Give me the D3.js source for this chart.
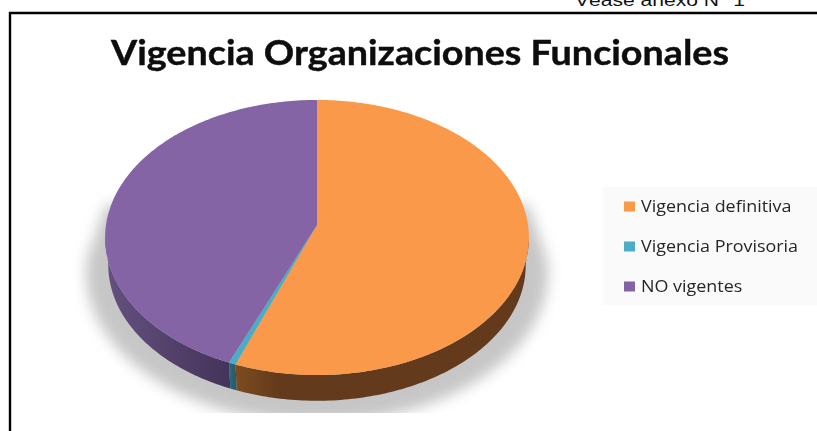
<!DOCTYPE html>
<html>
<head>
<meta charset="utf-8">
<script src="https://cdn.jsdelivr.net/npm/d3@7"></script>
<style>
    html, body { margin: 0; padding: 0; background: #fff; overflow: hidden; }
    svg { display: block; }
</style>
</head>
<body>
<div id="chart"></div>
<script>
const categories = ["Vigencia definitiva", "Vigencia Provisoria", "NO vigentes"];
const values = [55.75, 0.49, 43.76];
const topColors = ["#fa994a", "#4bacc6", "#8464a4"];
const sideLight = ["#7c4c20", "#2f6a7c", "#65517f"];
const sideDark = ["#633a1b", "#28586a", "#44335a"];
const title = "Vigencia Organizaciones Funcionales";
const note = "Véase anexo N° 1";

const width = 817, height = 431;
const cx = 317, cy = 225;      // where the slices meet
const rx = 211, ry = 136.4;
const tilt = 0.0909;           // perspective of the pie top
const depth = 27;

const svg = d3.select("#chart").append("svg")
    .attr("width", width)
    .attr("height", height);

const defs = svg.append("defs");
defs.append("filter").attr("id", "soft")
    .attr("x", "-20%").attr("y", "-20%").attr("width", "140%").attr("height", "140%")
    .append("feGaussianBlur").attr("stdDeviation", 7);
defs.append("filter").attr("id", "fuzz")
    .append("feGaussianBlur").attr("stdDeviation", 0.35);
defs.append("clipPath").attr("id", "shadowClip")
    .append("rect").attr("x", 0).attr("y", 0).attr("width", width).attr("height", 413);

// maps an angle (clockwise from the top) and a radius to the tilted pie plane
function project (angle, r = 1, scale = 1, dy = 0) {
    const u = Math.sin(angle) * r;
    const v = -Math.cos(angle) * r;
    const w = 1 - tilt * v;
    return [cx + rx * scale * u / w, cy + ry * scale * v / w + dy];
}

function rim (a0, a1, scale = 1, dy = 0) {
    const n = Math.max(2, Math.ceil((a1 - a0) * 60));
    return d3.range(n + 1).map((i) => project(a0 + (a1 - a0) * i / n, 1, scale, dy));
}

const arcs = d3.pie().sort(null)(values);
const line = d3.line();

// note and frame
svg.append("text")
    .attr("x", 575).attr("y", 6)
    .attr("font-family", "Liberation Sans")
    .attr("font-size", 16)
    .attr("textLength", 170)
    .attr("lengthAdjust", "spacingAndGlyphs")
    .attr("fill", "#111")
    .text(note);

svg.append("path")
    .attr("d", `M10 ${height}V13H${width}`)
    .attr("fill", "none")
    .attr("stroke", "#000")
    .attr("stroke-width", 2.4);

const chart = svg.append("g").attr("filter", "url(#fuzz)");

chart.append("text")
    .attr("x", 111).attr("y", 65)
    .attr("font-family", "Lato")
    .attr("font-weight", 700)
    .attr("font-size", 35)
    .attr("textLength", 618)
    .attr("lengthAdjust", "spacingAndGlyphs")
    .attr("fill", "#0a0a0a")
    .attr("stroke", "#0a0a0a")
    .attr("stroke-width", 0.4)
    .text(title);

// shadow on the floor
const shadowPts = [[cx - rx, 205], [cx + rx, 205]]
    .concat(rim(Math.PI / 2, Math.PI * 1.5, 1.09, 34));
svg.append("g").attr("clip-path", "url(#shadowClip)")
    .append("path")
    .attr("d", line(shadowPts) + "Z")
    .attr("fill", "#c6c6c6")
    .attr("filter", "url(#soft)");

// side wall, only the front part shows
const sideFrom = Math.PI * 95 / 180, sideTo = Math.PI * 265 / 180;
const pie3d = svg.append("g");
arcs.forEach((d, i) => {
    const a0 = Math.max(d.startAngle, sideFrom);
    const a1 = Math.min(d.endAngle, sideTo);
    const top = rim(a0, a1);
    const bottom = rim(a0, a1, 0.985, depth + 1).reverse();
    const xs = top.map((p) => p[0]);
    const id = "side" + i;
    const grad = defs.append("linearGradient").attr("id", id)
        .attr("gradientUnits", "userSpaceOnUse")
        .attr("x1", d3.min(xs)).attr("x2", d3.max(xs))
        .attr("y1", 0).attr("y2", 0);
    if (i == 0) {
        grad.append("stop").attr("offset", 0).attr("stop-color", sideLight[i]);
        grad.append("stop").attr("offset", 0.15).attr("stop-color", sideDark[i]);
        grad.append("stop").attr("offset", 1).attr("stop-color", sideDark[i]);
    } else {
        grad.append("stop").attr("offset", 0).attr("stop-color", sideLight[i]);
        grad.append("stop").attr("offset", 1).attr("stop-color", sideDark[i]);
    }
    pie3d.append("path")
        .attr("d", line(top.concat(bottom)) + "Z")
        .attr("fill", `url(#${id})`);
});

// top of the pie
pie3d.selectAll("path.slice")
    .data(arcs).enter()
    .append("path")
    .attr("class", "slice")
    .attr("d", (d) => line([[cx, cy]].concat(rim(d.startAngle, d.endAngle))) + "Z")
    .attr("fill", (d, i) => topColors[i]);

// value labels
chart.selectAll("text.value")
    .data(arcs).enter()
    .append("text")
    .attr("class", "value")
    .attr("x", (d) => project((d.startAngle + d.endAngle) / 2, 0.49)[0])
    .attr("y", (d) => project((d.startAngle + d.endAngle) / 2, 0.49)[1] + 6)
    .attr("text-anchor", "middle")
    .attr("font-family", "Open Sans")
    .attr("font-weight", 700)
    .attr("font-size", 17)
    .attr("fill", "#0d0d0d")
    .text((d) => Math.round(d.value) + "%");

// legend
const legendY = d3.scalePoint().domain(categories).range([206.5, 286.5]);
chart.append("rect")
    .attr("x", 603).attr("y", 187)
    .attr("width", width - 603).attr("height", 118)
    .attr("fill", "#fafafa");
const legend = chart.selectAll("g.item")
    .data(categories).enter()
    .append("g")
    .attr("class", "item")
    .attr("transform", (d) => `translate(624,${legendY(d)})`);
legend.append("rect")
    .attr("y", -5)
    .attr("width", 11).attr("height", 10)
    .attr("fill", (d, i) => topColors[i]);
legend.append("text")
    .attr("transform", "translate(17,5) scale(1.12,1)")
    .attr("font-family", "Open Sans")
    .attr("font-size", 16)
    .attr("fill", "#262626")
    .text((d) => d);
</script>
</body>
</html>
